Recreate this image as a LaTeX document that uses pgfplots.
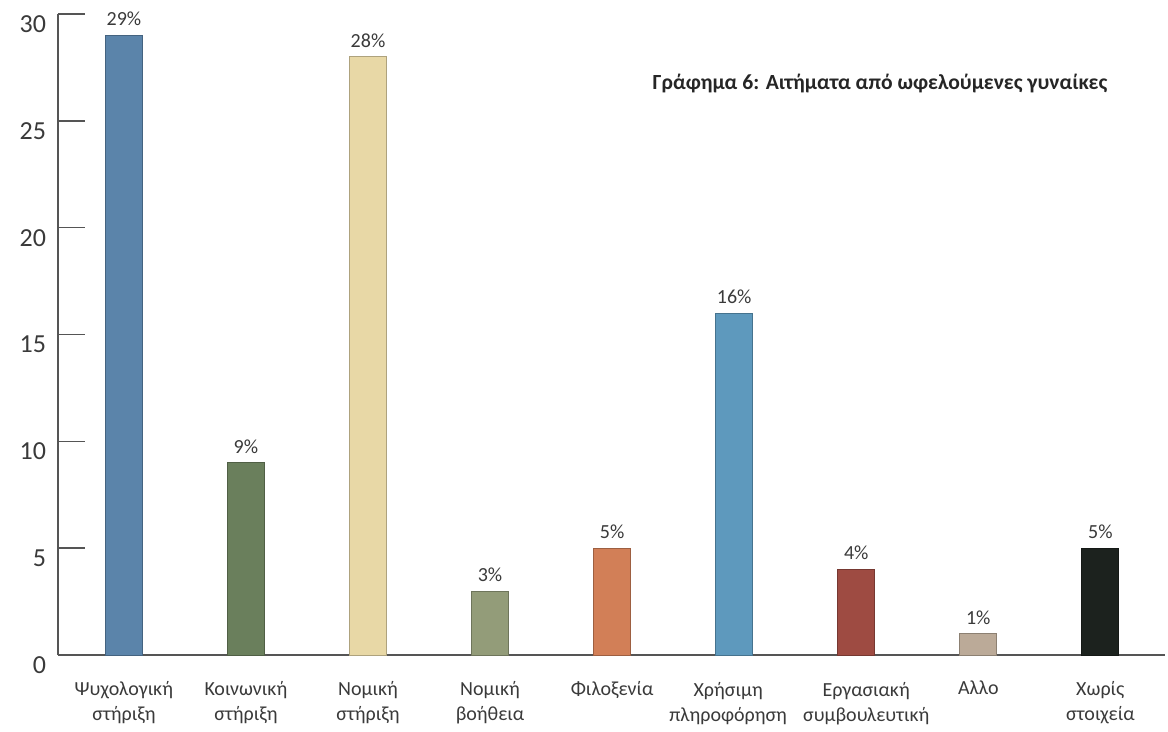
\documentclass[border=0pt]{standalone}
\usepackage{pgfplots}
\pgfplotsset{compat=1.18}
\usepackage{fontspec}
\setmainfont{Carlito}
\definecolor{c1}{HTML}{5B84AA}
\definecolor{c2}{HTML}{6A7F5C}
\definecolor{c3}{HTML}{E8D8A6}
\definecolor{c4}{HTML}{939C79}
\definecolor{c5}{HTML}{D27F57}
\definecolor{c6}{HTML}{5E99BD}
\definecolor{c7}{HTML}{9E4B42}
\definecolor{c8}{HTML}{BBAA98}
\definecolor{c9}{HTML}{1C221E}
\definecolor{axisgray}{HTML}{555555}
\definecolor{txt}{HTML}{3A3A3A}
\begin{document}
\begin{tikzpicture}
\begin{axis}[
  at={(0pt,0pt)}, anchor=south west,
  scale only axis,
  width=553.5pt, height=320.5pt,
  xmin=-0.54, xmax=8.53,
  ymin=0, ymax=30,
  axis lines=left,
  axis line style={-, axisgray, line width=0.7pt},
  ytick={0,5,...,30},
  tick align=inside,
  major tick length=13.5pt,
  ytick style={axisgray, line width=0.7pt},
  xtick={0,...,8},
  xtick style={draw=none},
  xticklabels={{Ψυχολογική\\στήριξη},{Κοινωνική\\στήριξη},{Νομική\\στήριξη},{Νομική\\βοήθεια},{Φιλοξενία},{},{},{Αλλο},{Χωρίς\\στοιχεία}},
  xticklabel style={align=center, font=\fontsize{10}{12.5}\selectfont, text=txt, anchor=north, yshift=4pt},
  yticklabel style={font=\fontsize{13}{14}\selectfont, text=txt, yshift=-5pt, xshift=-2.5pt},
  /pgf/number format/assume math mode=true,
  ybar, bar width=18.5pt, bar shift=0pt,
  nodes near coords={\pgfmathprintnumber{\pgfplotspointmeta}\%},
  every node near coord/.append style={font=\fontsize{10}{12}\selectfont, text=txt, inner sep=0pt, anchor=south, yshift=4.5pt},
  clip=false,
]
\addplot[fill=c1, draw=c1!75!black, line width=0.4pt] coordinates {(0,29)};
\addplot[fill=c2, draw=c2!75!black, line width=0.4pt] coordinates {(1,9)};
\addplot[fill=c3, draw=c3!75!black, line width=0.4pt] coordinates {(2,28)};
\addplot[fill=c4, draw=c4!75!black, line width=0.4pt] coordinates {(3,3)};
\addplot[fill=c5, draw=c5!75!black, line width=0.4pt] coordinates {(4,5)};
\addplot[fill=c6, draw=c6!75!black, line width=0.4pt] coordinates {(5,16)};
\addplot[fill=c7, draw=c7!75!black, line width=0.4pt] coordinates {(6,4)};
\addplot[fill=c8, draw=c8!75!black, line width=0.4pt] coordinates {(7,1)};
\addplot[fill=c9, draw=c9!75!black, line width=0.4pt] coordinates {(8,5)};
\node[align=center, font=\fontsize{10}{12.5}\selectfont, text=txt, anchor=north, inner sep=0.333em, yshift=-10pt, xshift=-3pt] at (axis cs:5,0) {Χρήσιμη\\πληροφόρηση};
\node[align=center, font=\fontsize{10}{12.5}\selectfont, text=txt, anchor=north, inner sep=0.333em, yshift=-10pt, xshift=5pt] at (axis cs:6,0) {Εργασιακή\\συμβουλευτική};
\end{axis}
\node[font=\bfseries\fontsize{10.8}{12}\selectfont, text=black!85] at (411pt,286pt) {Γράφημα 6: Αιτήματα από ωφελούμενες γυναίκες};
\path[use as bounding box] (-29pt,-35pt) rectangle (555pt,327.5pt);
\end{tikzpicture}
\end{document}
